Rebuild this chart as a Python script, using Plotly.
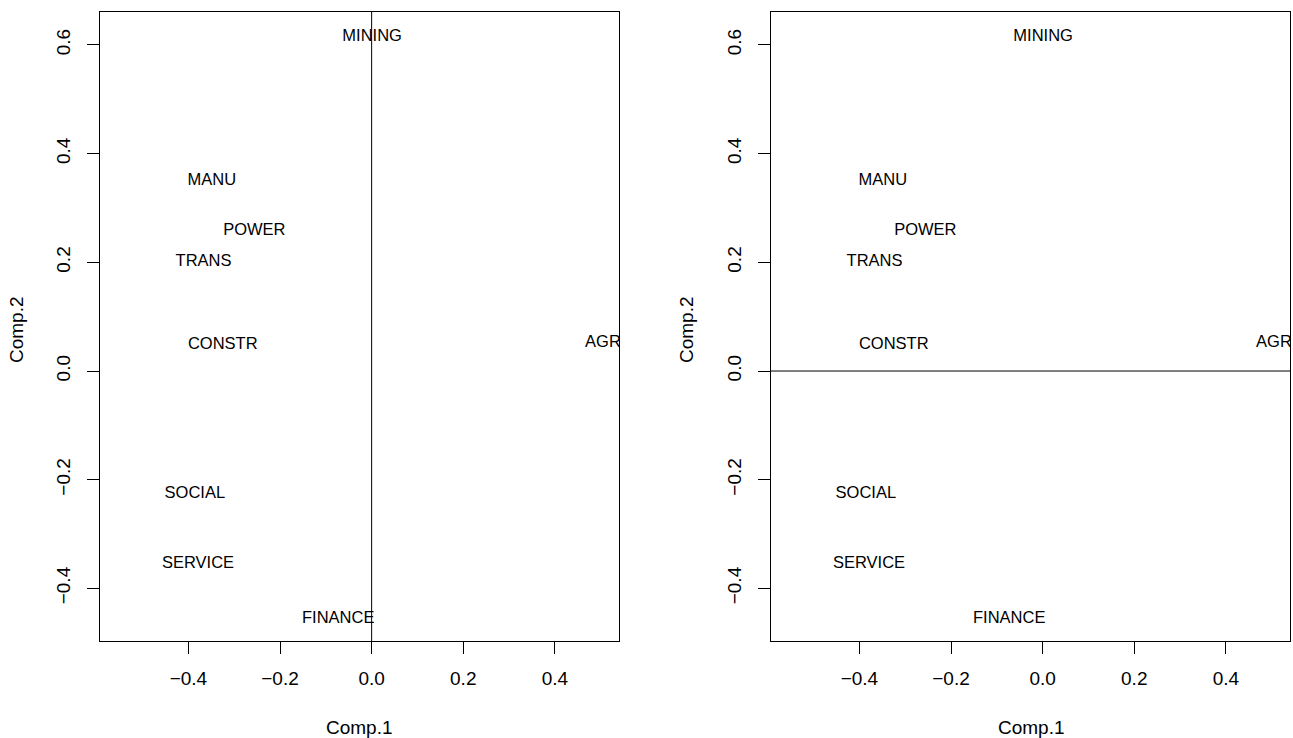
import plotly.graph_objects as go

labels = ["MINING", "MANU", "POWER", "TRANS", "CONSTR", "AGR", "SOCIAL", "SERVICE", "FINANCE"]
comp1 = [0.001, -0.349, -0.256, -0.367, -0.325, 0.505, -0.386, -0.379, -0.073]
comp2 = [0.615, 0.350, 0.258, 0.200, 0.049, 0.051, -0.2255, -0.354, -0.457]

x_ticks = [-0.4, -0.2, 0.0, 0.2, 0.4]
x_ticktext = ["\u22120.4", "\u22120.2", "0.0", "0.2", "0.4"]
y_ticks = [-0.4, -0.2, 0.0, 0.2, 0.4, 0.6]
y_ticktext = ["\u22120.4", "\u22120.2", "0.0", "0.2", "0.4", "0.6"]
x_range = [-0.593, 0.540]
y_range = [-0.4968, 0.6607]

FONT = "Liberation Sans, Arial, Helvetica, sans-serif"

W, H = 1293, 738


def px(x):
    return x / W


def py(y):
    return (H - y) / H


fig = go.Figure()
for ax in ["", "2"]:
    fig.add_trace(go.Scatter(
        x=comp1, y=comp2, text=labels, mode="text",
        textposition="middle center",
        textfont=dict(family=FONT, size=16.5, color="black"),
        cliponaxis=True, showlegend=False, hoverinfo="text",
        xaxis="x" + ax, yaxis="y" + ax,
    ))

axis_common = dict(
    showgrid=False, zeroline=False, showline=True, mirror=True,
    linecolor="black", linewidth=1, ticks="outside", ticklen=12,
    tickcolor="black", tickwidth=1,
    tickfont=dict(family=FONT, size=19, color="black"),
)

y_dom = [py(641), py(12)]
title_font = dict(family=FONT, size=19, color="black")
fig.update_layout(
    width=W, height=H,
    margin=dict(l=0, r=0, t=0, b=0),
    paper_bgcolor="white", plot_bgcolor="white",
    xaxis=dict(domain=[px(100), px(619)], range=x_range, tickvals=x_ticks,
               ticktext=x_ticktext, ticklabelstandoff=8, anchor="y", **axis_common),
    yaxis=dict(domain=y_dom, range=y_range, tickvals=y_ticks, ticktext=y_ticktext,
               tickangle=-90, ticklabelstandoff=9, anchor="x", **axis_common),
    xaxis2=dict(domain=[px(771), px(1290)], range=x_range, tickvals=x_ticks,
                ticktext=x_ticktext, ticklabelstandoff=8, anchor="y2", **axis_common),
    yaxis2=dict(domain=y_dom, range=y_range, tickvals=y_ticks, ticktext=y_ticktext,
                tickangle=-90, ticklabelstandoff=9, anchor="x2", **axis_common),
    shapes=[
        dict(type="line", xref="x", yref="y domain", x0=0, x1=0, y0=0, y1=1,
             line=dict(color="black", width=1)),
        dict(type="line", xref="x2 domain", yref="y2", x0=0, x1=1, y0=0, y1=0,
             line=dict(color="black", width=1)),
    ],
    annotations=[
        dict(text="Comp.1", x=px(359.5), y=py(727), xref="paper", yref="paper",
             xanchor="center", yanchor="middle", showarrow=False, font=title_font),
        dict(text="Comp.1", x=px(1031), y=py(727), xref="paper", yref="paper",
             xanchor="center", yanchor="middle", showarrow=False, font=title_font),
        dict(text="Comp.2", x=px(16), y=py(330), xref="paper", yref="paper",
             xanchor="center", yanchor="middle", showarrow=False, textangle=-90,
             font=title_font),
        dict(text="Comp.2", x=px(686), y=py(330), xref="paper", yref="paper",
             xanchor="center", yanchor="middle", showarrow=False, textangle=-90,
             font=title_font),
    ],
)

fig.write_html("out.html",
               config={"displayModeBar": False},
               post_script="document.body.style.margin='0';document.body.style.overflow='hidden';")
